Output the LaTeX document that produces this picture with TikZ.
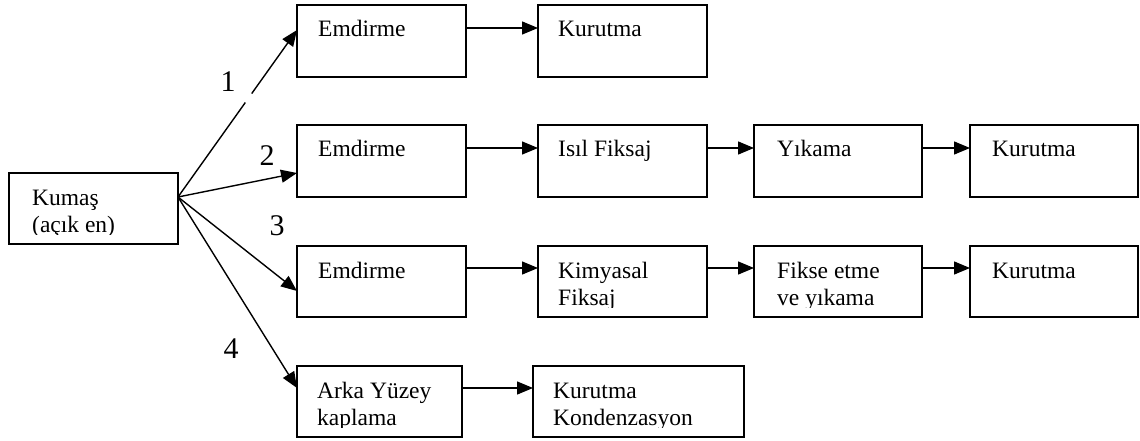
\documentclass[tikz,border=0pt]{standalone}
\usepackage{fontspec}
\setmainfont{Liberation Serif}
\usetikzlibrary{arrows.meta}

\tikzset{
  procbox/.style={draw, line width=1.5pt, inner sep=0pt, outer sep=0pt, anchor=north west},
  flow/.style={line width=1.4pt, -{Triangle[length=16pt,width=13pt]}},
  boxtext/.style={anchor=base west, inner sep=0pt, font=\fontsize{23.5}{27}\selectfont},
  numlabel/.style={font=\fontsize{30}{32}\selectfont, inner sep=0pt}
}

% name, left, top, width, height, text inset, text
\newcommand\procnode[7]{%
  \node[procbox, minimum width=#4pt, minimum height=#5pt] (#1) at (#2pt,-#3pt) {};
  \begin{scope}
    \clip (#2pt,-#3pt) rectangle ++(#4pt,{-(#5-10)*1pt});
    \node[boxtext] (#1-txt) at ({(#2+#6)*1pt},{-(#3+32)*1pt}) {\begin{tabular}[t]{@{}l@{}}#7\end{tabular}};
  \end{scope}}

\begin{document}
\begin{tikzpicture}[x=1pt,y=1pt]
\fill[white] (0,0) rectangle (1140,-441);
\useasboundingbox (0,0) rectangle (1140,-441);

\procnode{kumas}{9}{173}{169}{71}{23}{Kumaş\\(açık en)}
\procnode{e1}{297}{5}{169}{72}{21}{Emdirme}
\procnode{k1}{538}{5}{169}{72}{20}{Kurutma}
\procnode{e2}{297}{125}{169}{72}{21}{Emdirme}
\procnode{f2}{538}{125}{169}{72}{20}{Isıl Fiksaj}
\procnode{y2}{754}{125}{168}{72}{23}{Yıkama}
\procnode{k2}{970}{125}{168}{72}{22}{Kurutma}
\procnode{e3}{297}{246}{169}{71}{21}{Emdirme}
\procnode{f3}{538}{246}{169}{71}{20}{Kimyasal\\Fiksaj}
\procnode{y3}{754}{246}{168}{71}{23}{Fikse etme\\ve yıkama}
\procnode{k3}{970}{246}{168}{71}{22}{Kurutma}
\procnode{a4}{297}{366}{165}{71}{20}{Arka Yüzey\\kaplama}
\procnode{k4}{533}{366}{211}{71}{20}{Kurutma\\Kondenzasyon}

% branches from Kumaş
\draw[flow, dash pattern=on 116pt off 11pt on 400pt] ([yshift=-24pt]kumas.north east) -- ([yshift=-25pt]e1.north west);
\draw[flow] ([yshift=-24pt]kumas.north east) -- ([yshift=-48pt]e2.north west);
\draw[flow] ([yshift=-24pt]kumas.north east) -- ([yshift=-45pt]e3.north west);
\draw[flow] ([yshift=-24pt]kumas.north east) -- ([yshift=-22pt]a4.north west);

% row arrows
\draw[flow] ([yshift=-23pt]e1.north east) -- ([yshift=-23pt]k1.north west);
\draw[flow] ([yshift=-23pt]e2.north east) -- ([yshift=-23pt]f2.north west);
\draw[flow] ([yshift=-23pt]f2.north east) -- ([yshift=-23pt]y2.north west);
\draw[flow] ([yshift=-23pt]y2.north east) -- ([yshift=-23pt]k2.north west);
\draw[flow] ([yshift=-22pt]e3.north east) -- ([yshift=-22pt]f3.north west);
\draw[flow] ([yshift=-22pt]f3.north east) -- ([yshift=-22pt]y3.north west);
\draw[flow] ([yshift=-22pt]y3.north east) -- ([yshift=-22pt]k3.north west);
\draw[flow] ([yshift=-22pt]a4.north east) -- ([yshift=-22pt]k4.north west);

% branch labels
\node[numlabel] (l1) at (228,-82) {1};
\node[numlabel] (l2) at (267,-156) {2};
\node[numlabel] (l3) at (277,-226) {3};
\node[numlabel] (l4) at (231,-349) {4};
\end{tikzpicture}
\end{document}
